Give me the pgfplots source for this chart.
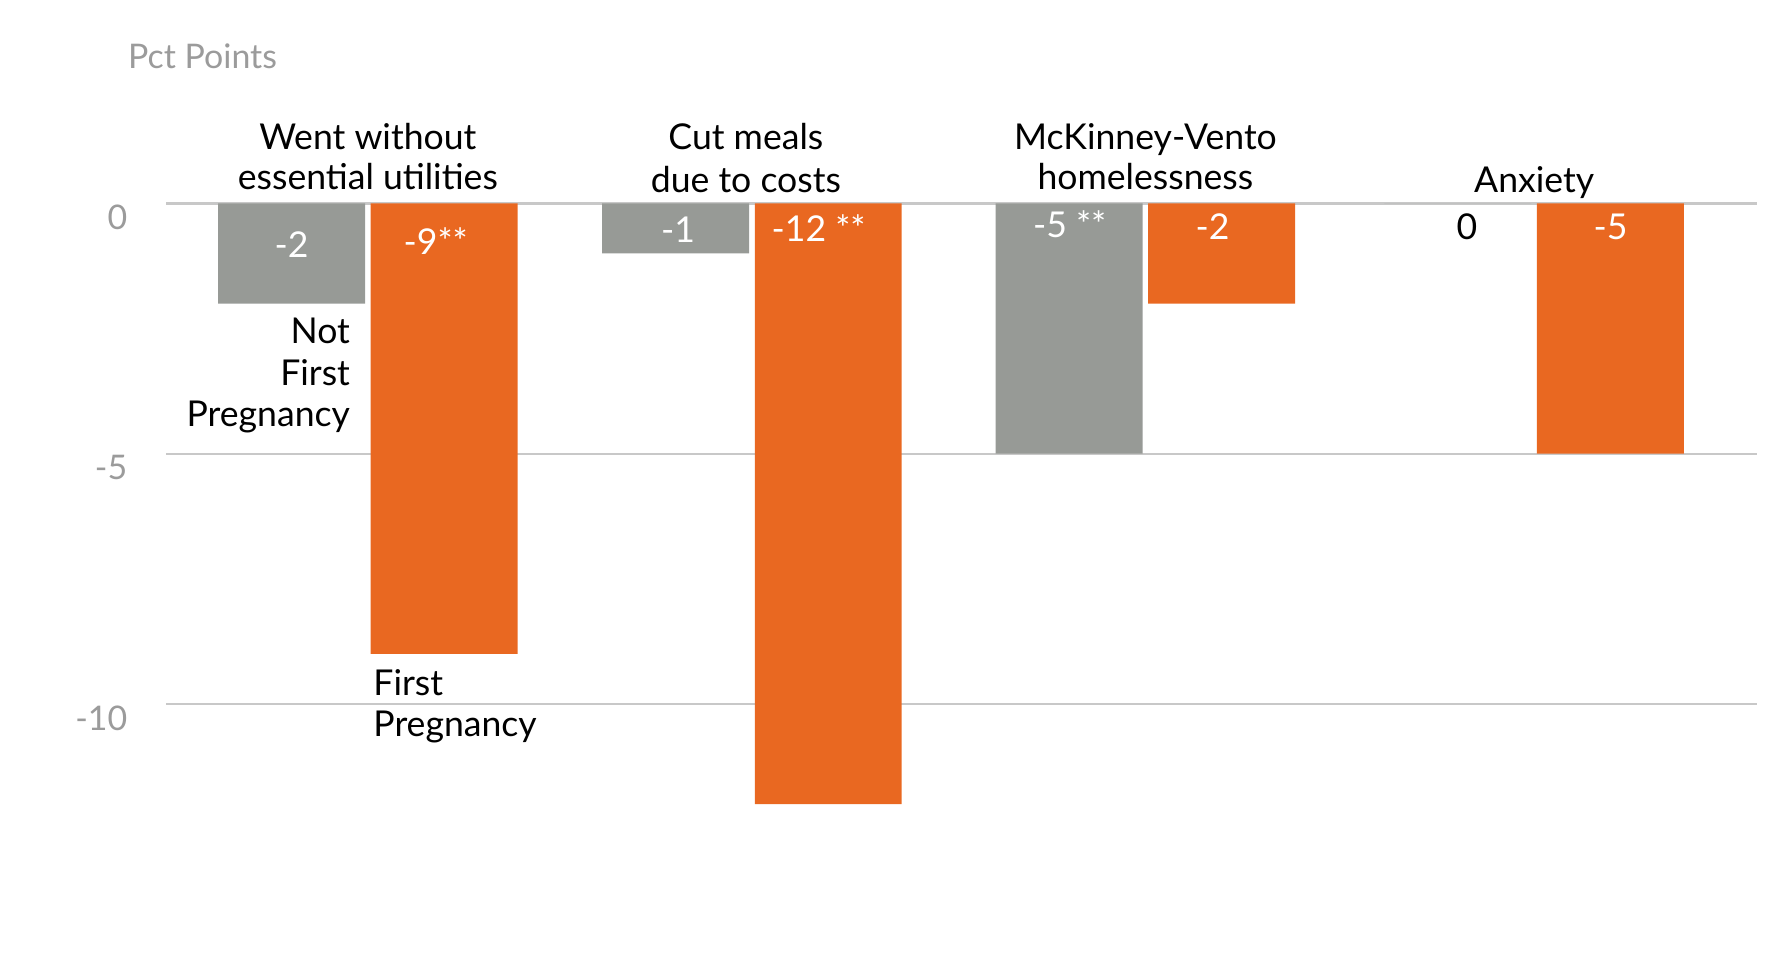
\documentclass[border=0pt]{standalone}
\usepackage{fontspec}
\setmainfont{Lato}
\usepackage{pgfplots}
\pgfplotsset{compat=1.18}
\definecolor{barGray}{RGB}{151,154,150}
\definecolor{barOrange}{RGB}{233,104,33}
\definecolor{tickGray}{RGB}{155,155,155}
\definecolor{gridGray}{RGB}{200,200,200}
\begin{document}
\begin{tikzpicture}[lbl/.style={font=\fontsize{15.75}{18}\selectfont, inner sep=0pt, anchor=base}]
\useasboundingbox (0,0) rectangle (784pt,421.5pt);
\begin{axis}[
  at={(73.5pt,331.5pt)}, anchor=north west,
  scale only axis, width=704pt, height=332.25pt,
  xmin=-0.519, xmax=3.574, ymin=-15, ymax=0,
  axis line style={draw=none},
  major tick length=0pt,
  xtick=\empty,
  ytick={-10,-5,0},
  yticklabels={-10,-5,0},
  yticklabel style={font=\fontsize{15}{18}\selectfont, text=tickGray, inner sep=0pt, anchor=base east, xshift=-17pt, yshift=-11.5pt},
  ymajorgrids,
  grid style={gridGray, line width=1pt},
  clip=false,
  bar width=65pt,
]
\addplot[ybar, bar shift=-33.75pt, fill=barGray, draw=none] coordinates {(0,-2) (0.988,-1) (2,-5) (3,0)};
\addplot[ybar, bar shift=33.75pt, fill=barOrange, draw=none] coordinates {(0,-9) (0.988,-12) (2,-2) (3,-5)};

% title
\node[lbl, font=\fontsize{15}{18}\selectfont, anchor=base west, text=tickGray] at (rel axis cs:0,1) [xshift=-17pt, yshift=59.5pt] {Pct Points};

% category labels
\node[lbl] at (axis cs:0,0) [yshift=24pt] {Went without};
\node[lbl] at (axis cs:0,0) [yshift=6pt] {essential utilities};
\node[lbl] at (axis cs:0.988,0) [xshift=-2.7pt, yshift=24pt] {Cut meals};
\node[lbl] at (axis cs:0.988,0) [xshift=-2.7pt, yshift=5pt] {due to costs};
\node[lbl] at (axis cs:2,0) [yshift=24pt] {McKinney-Vento};
\node[lbl] at (axis cs:2,0) [yshift=6pt] {homelessness};
\node[lbl] at (axis cs:3,0) [yshift=5pt] {Anxiety};

% value labels
\node[lbl, text=white] at (axis cs:0,0) [xshift=-33.75pt, yshift=-24pt] {-2};
\node[lbl, text=white] at (axis cs:0,0) [xshift=30pt, yshift=-22.5pt] {-9**};
\node[lbl, text=white] at (axis cs:0.988,0) [xshift=-32.7pt, yshift=-17.5pt] {-1};
\node[lbl, text=white] at (axis cs:0.988,0) [xshift=29.5pt, yshift=-17pt] {-12 **};
\node[lbl, text=white] at (axis cs:2,0) [xshift=-33.5pt, yshift=-15pt] {-5 **};
\node[lbl, text=white] at (axis cs:2,0) [xshift=29.75pt, yshift=-16pt] {-2};
\node[lbl, text=black] at (axis cs:3,0) [xshift=-29.75pt, yshift=-16pt] {0};
\node[lbl, text=white] at (axis cs:3,0) [xshift=33.75pt, yshift=-16pt] {-5};

% series annotations
\node[lbl, anchor=base east] at (axis cs:0,0) [xshift=-7.75pt, yshift=-62pt] {Not};
\node[lbl, anchor=base east] at (axis cs:0,0) [xshift=-7.75pt, yshift=-80.5pt] {First};
\node[lbl, anchor=base east] at (axis cs:0,0) [xshift=-7.75pt, yshift=-98.5pt] {Pregnancy};
\node[lbl, anchor=base west] at (axis cs:0,0) [xshift=2.25pt, yshift=-217.5pt] {First};
\node[lbl, anchor=base west] at (axis cs:0,0) [xshift=2.25pt, yshift=-236pt] {Pregnancy};
\end{axis}
\end{tikzpicture}
\end{document}
